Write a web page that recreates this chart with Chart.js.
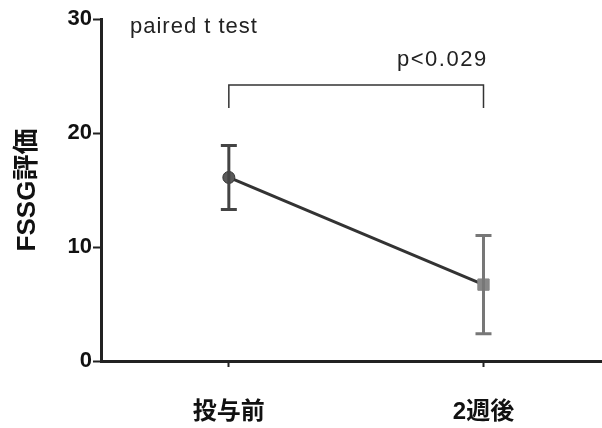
<!DOCTYPE html>
<html>
<head>
<meta charset="utf-8">
<script src="https://cdn.jsdelivr.net/npm/chart.js@4"></script>
<style>
  html, body { margin: 0; padding: 0; background: #fff; }
  #wrap { width: 602px; height: 428px; }
</style>
</head>
<body>
<div id="wrap"><canvas id="chart" width="602" height="428"></canvas></div>
<script>
const groups = ['投与前', '2週後'];
const means = [16.1, 6.7];
const sds = [2.8, 4.3];
const yTicks = [0, 10, 20, 30];
const bracketLow = 22.2;
const bracketHigh = 24.2;
const pText = 'p<0.029';
const testText = 'paired t test';

const FONT = '"Liberation Sans", Arial, "Noto Sans CJK JP", sans-serif';

// error bars + texts
const extras = {
    id: 'extras',
    afterDatasetsDraw(chart) {
        const ctx = chart.ctx;
        const x = chart.scales.x, y = chart.scales.y;
        const cols = ['#444', '#777'];
        ctx.save();
        means.forEach((m, i) => {
            const px = x.getPixelForValue(i + 1);
            const top = y.getPixelForValue(m + sds[i]);
            const bot = y.getPixelForValue(m - sds[i]);
            ctx.strokeStyle = cols[i];
            ctx.lineWidth = 3;
            ctx.beginPath();
            ctx.moveTo(px, top); ctx.lineTo(px, bot);
            ctx.moveTo(px - 8, top); ctx.lineTo(px + 8, top);
            ctx.moveTo(px - 8, bot); ctx.lineTo(px + 8, bot);
            ctx.stroke();
        });
        // axis line runs on to the right edge
        ctx.strokeStyle = '#222';
        ctx.lineWidth = 3;
        ctx.beginPath();
        ctx.moveTo(x.getPixelForValue(2), y.getPixelForValue(0) + 0.5);
        ctx.lineTo(602, y.getPixelForValue(0) + 0.5);
        ctx.stroke();

        ctx.fillStyle = '#222';
        ctx.font = '22px ' + FONT;
        ctx.textBaseline = 'middle';
        ctx.textAlign = 'left';
        ctx.letterSpacing = '1px';
        ctx.fillText(testText, 130, 27);
        ctx.letterSpacing = '1.5px';
        ctx.fillText(pText, 397, 60);
        ctx.restore();
    }
};

new Chart(document.getElementById('chart'), {
    type: 'scatter',
    data: {
        datasets: [
            {
                data: [{ x: 1, y: bracketLow }, { x: 1, y: bracketHigh }, { x: 2, y: bracketHigh }, { x: 2, y: bracketLow }],
                showLine: true,
                borderColor: '#333',
                borderWidth: 1.5,
                pointRadius: 0
            },
            {
                data: means.map((m, i) => ({ x: i + 1, y: m })),
                showLine: true,
                borderColor: '#333',
                borderWidth: 3,
                pointStyle: ['circle', 'rect'],
                pointRadius: [6, 8],
                backgroundColor: ['#5a5a5a', '#888'],
                pointBorderColor: ['#333', '#888'],
                pointBorderWidth: 1
            }
        ]
    },
    options: {
        animation: false,
        responsive: false,
        events: [],
        layout: { padding: { top: 19, right: 0, left: 0, bottom: 0 } },
        plugins: { legend: { display: false }, tooltip: { enabled: false } },
        scales: {
            x: {
                type: 'linear',
                min: 0.498,
                max: 2.43,
                afterBuildTicks: s => { s.ticks = [{ value: 1 }, { value: 2 }]; },
                afterFit: s => { s.height = 67; },
                border: { color: '#222', width: 3 },
                grid: { drawOnChartArea: false, tickLength: 6, tickWidth: 2, color: '#222' },
                ticks: {
                    padding: 31,
                    color: '#111',
                    font: { family: FONT, size: 24, weight: 'bold' },
                    callback: v => groups[v - 1]
                }
            },
            y: {
                min: 0,
                max: 30,
                afterBuildTicks: s => { s.ticks = yTicks.map(v => ({ value: v })); },
                afterFit: s => { s.width = 101; },
                border: { color: '#222', width: 3 },
                grid: { drawOnChartArea: false, tickLength: 8, tickWidth: 2, color: '#222' },
                ticks: {
                    padding: 1,
                    color: '#111',
                    font: { family: FONT, size: 22, weight: 'bold' }
                },
                title: {
                    display: true,
                    text: 'FSSG評価',
                    color: '#111',
                    padding: { top: 12, bottom: 0 },
                    font: { family: FONT, size: 26, weight: 'bold' }
                }
            }
        }
    },
    plugins: [extras]
});
</script>
</body>
</html>
